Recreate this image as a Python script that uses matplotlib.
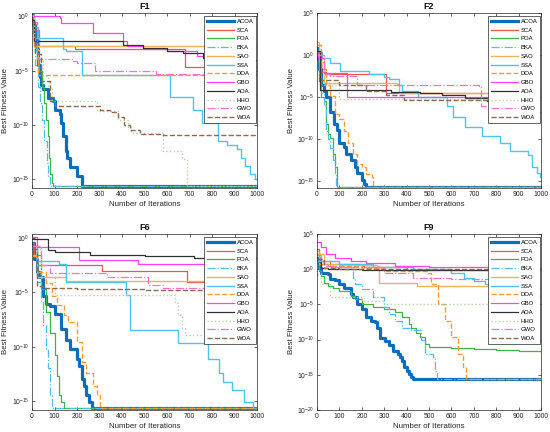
import numpy as np
import matplotlib
matplotlib.use('Agg')
import matplotlib.pyplot as plt
from matplotlib.ticker import FixedLocator, LogFormatterSciNotation, NullLocator, MultipleLocator

plt.rcParams['font.family'] = ['Liberation Sans', 'DejaVu Sans']
plt.rcParams['axes.unicode_minus'] = False
plt.rcParams['mathtext.fontset'] = 'custom'
plt.rcParams['mathtext.rm'] = 'Liberation Sans'

ALGOS = ['ACOA', 'SCA', 'POA', 'BKA', 'SAO', 'SSA', 'DOA', 'GBO', 'AOA', 'HHO', 'GWO', 'WOA']

# convergence curves: (iteration, log10 best fitness) breakpoints
F1 = {
    'ACOA': [(0, 0.15), (5, -0.8), (12, -1.8), (20, -3.0), (28, -4.5), (35, -5.6), (42, -6.3), (49, -6.7),
             (71, -7.5), (93, -7.8), (102, -8.6), (123, -9.0), (131, -9.8), (138, -11.0), (150, -12.4),
             (155, -13.0), (169, -13.9), (200, -14.7), (220, -15.65), (1000, -15.65)],
    'SCA': [(0, -0.2), (8, -1.3), (30, -2.75), (190, -3.05), (680, -4.7), (1000, -4.75)],
    'POA': [(0, 0.0), (5, -1.5), (10, -2.5), (20, -4.0), (30, -5.0), (45, -6.5), (55, -8.0), (62, -9.5),
            (70, -11.0), (75, -13.0), (80, -14.5), (88, -15.3), (95, -15.65), (1000, -15.65)],
    'BKA': [(0, -0.5), (8, -2.5), (15, -4.5), (25, -6.5), (35, -8.0), (45, -9.5), (55, -11.5),
            (65, -13.5), (72, -14.8), (80, -15.65), (1000, -15.65)],
    'SAO': [(0, -0.5), (10, -2.75), (1000, -2.75)],
    'SSA': [(0, 0.1), (10, -1.0), (25, -2.0), (138, -3.0), (150, -3.2), (220, -5.45), (613, -7.4),
            (716, -8.6), (756, -9.8), (827, -11.5), (866, -11.8), (911, -12.2), (930, -13.0),
            (947, -13.8), (969, -14.5), (991, -15.0), (1000, -15.1)],
    'DOA': [(0, -0.5), (10, -3.0), (25, -5.45), (1000, -5.45)],
    'GBO': [(0, 0.0), (123, -0.15), (130, -0.6), (272, -1.5), (405, -2.3), (420, -2.75), (495, -3.0),
            (600, -3.2), (735, -3.7), (900, -4.0), (985, -5.3), (1000, -5.3)],
    'AOA': [(0, -0.3), (10, -2.3), (405, -2.6), (495, -2.9), (600, -3.2), (673, -3.4), (760, -3.8),
            (896, -4.0), (1000, -4.1)],
    'HHO': [(0, 0.0), (10, -2.0), (30, -4.0), (50, -5.5), (70, -6.5), (89, -7.8), (289, -8.75),
            (380, -9.5), (427, -10.2), (440, -10.7), (582, -12.4), (667, -13.1), (689, -15.65),
            (1000, -15.65)],
    'GWO': [(0, -0.5), (20, -3.9), (180, -4.1), (200, -4.3), (280, -5.0), (550, -5.35), (985, -7.2),
            (1000, -7.2)],
    'WOA': [(0, -0.5), (15, -3.5), (40, -6.0), (80, -7.8), (102, -8.3), (289, -8.3), (300, -8.6),
            (347, -8.8), (380, -9.3), (410, -10.0), (435, -10.5), (480, -10.8), (582, -10.95),
            (1000, -10.95)],
}

F2 = {
    'ACOA': [(0, 0.8), (5, -0.5), (10, -1.6), (20, -3.5), (30, -4.3), (40, -5.0), (60, -6.8), (75, -8.2),
             (90, -8.9), (100, -10.5), (120, -10.9), (130, -11.7), (150, -12.5), (170, -13.3),
             (180, -14.0), (200, -14.8), (210, -15.3), (220, -15.65), (1000, -15.65)],
    'SCA': [(0, 0.4), (20, -2.0), (40, -2.2), (310, -4.5), (1000, -4.7)],
    'POA': [(0, 0.4), (10, -3.1), (20, -5.0), (30, -5.4), (40, -8.2), (50, -9.4), (60, -9.8),
            (70, -11.7), (80, -13.3), (88, -15.65), (1000, -15.65)],
    'BKA': [(0, 0.5), (10, -2.5), (20, -4.5), (30, -6.0), (40, -9.0), (50, -10.0), (60, -11.0),
            (70, -12.5), (80, -14.0), (86, -15.65), (1000, -15.65)],
    'SAO': [(0, 1.5), (10, -0.8), (30, -3.3), (357, -3.4), (365, -4.5), (1000, -4.7)],
    'SSA': [(0, 0.4), (22, -0.4), (60, -1.0), (104, -1.95), (230, -2.2), (300, -2.6), (320, -2.8),
            (365, -3.5), (380, -4.3), (450, -5.0), (579, -6.06), (609, -7.35), (661, -8.6),
            (735, -9.6), (817, -10.4), (861, -11.4), (943, -11.9), (958, -13.3), (980, -14.07),
            (994, -14.5), (1000, -14.5)],
    'DOA': [(0, 1.2), (20, -1.6), (40, -3.5), (60, -4.9), (80, -7.0), (100, -7.6), (120, -9.0),
            (140, -10.5), (160, -11.7), (180, -12.9), (200, -13.3), (220, -14.1), (245, -14.5),
            (250, -15.65), (1000, -15.65)],
    'GBO': [(0, 0.2), (5, -0.3), (30, -2.15), (134, -5.0), (1000, -5.05)],
    'AOA': [(0, 0.5), (15, -4.1), (200, -4.2), (330, -4.35), (460, -4.5), (560, -4.8), (660, -5.15),
            (757, -5.5), (970, -6.8), (1000, -6.8)],
    'HHO': [(0, 0.0), (30, -3.5), (100, -5.2), (1000, -5.4)],
    'GWO': [(0, 0.0), (30, -2.3), (60, -2.5), (180, -3.6), (724, -3.7), (730, -6.06), (1000, -6.06)],
    'WOA': [(0, 0.4), (20, -3.0), (100, -3.5), (220, -4.3), (310, -4.8), (390, -5.35), (1000, -5.4)],
}

F6 = {
    'ACOA': [(0, -0.4), (10, -1.9), (20, -3.1), (30, -3.6), (50, -5.3), (60, -6.1), (80, -6.25),
             (100, -7.0), (130, -8.4), (150, -9.4), (170, -10.2), (200, -11.1), (210, -11.8),
             (220, -13.0), (230, -13.6), (240, -14.5), (255, -15.1), (265, -15.7), (1000, -15.7)],
    'SCA': [(0, -0.4), (10, -1.5), (40, -2.43), (310, -3.05), (687, -4.0), (1000, -4.0)],
    'POA': [(0, -0.7), (20, -2.5), (40, -4.7), (60, -6.8), (80, -8.7), (100, -10.8), (110, -12.7),
            (120, -14.5), (130, -15.1), (140, -15.7), (1000, -15.7)],
    'BKA': [(0, -0.7), (20, -4.0), (40, -5.9), (50, -8.0), (60, -10.2), (70, -12.0), (80, -14.5),
            (90, -15.7), (1000, -15.7)],
    'SAO': [(0, -1.5), (20, -3.6), (153, -3.97), (990, -5.2), (1000, -5.2)],
    'SSA': [(0, -1.0), (20, -2.1), (120, -2.4), (150, -4.05), (418, -5.2), (436, -8.43), (650, -9.66),
            (780, -11.1), (830, -12.4), (850, -13.3), (890, -14.0), (940, -15.1), (980, -15.7),
            (1000, -15.7)],
    'DOA': [(0, -1.6), (20, -3.1), (60, -4.1), (90, -5.3), (110, -6.2), (140, -7.1), (160, -7.75),
            (200, -9.6), (220, -11.4), (240, -12.4), (270, -13.6), (290, -14.5), (300, -15.7),
            (1000, -15.7)],
    'GBO': [(0, 0.1), (20, -0.8), (210, -1.97), (472, -2.34), (990, -3.6), (1000, -3.6)],
    'AOA': [(0, -0.1), (70, -1.1), (100, -1.3), (258, -1.5), (500, -1.65), (720, -1.8), (1000, -1.85)],
    'HHO': [(0, -1.0), (40, -3.6), (100, -5.2), (636, -6.0), (650, -7.1), (665, -8.25), (680, -8.9),
            (1000, -8.9)],
    'GWO': [(0, -0.7), (40, -2.5), (80, -3.2), (332, -3.6), (517, -4.27), (583, -4.56), (990, -5.8),
            (1000, -5.8)],
    'WOA': [(0, -1.0), (20, -4.4), (50, -4.55), (200, -4.65), (500, -4.74), (1000, -4.74)],
}

F9 = {
    'ACOA': [(0, 1.65), (10, 0.2), (20, -0.5), (50, -0.7), (60, -1.4), (80, -1.6), (100, -2.1),
             (120, -2.6), (150, -3.5), (160, -4.0), (180, -5.0), (200, -5.7), (220, -6.8), (240, -7.3),
             (260, -7.5), (270, -8.3), (280, -9.8), (305, -10.2), (320, -10.8), (340, -11.6),
             (360, -12.0), (370, -12.5), (380, -13.0), (390, -13.9), (400, -14.4), (410, -14.9),
             (420, -15.3), (430, -15.65), (1000, -15.65)],
    'SCA': [(0, 2.8), (10, 1.6), (20, 1.2), (60, 0.7), (200, 0.5), (210, 0.25), (400, -0.1), (1000, -0.5)],
    'POA': [(0, 1.2), (10, -0.2), (20, -0.9), (30, -1.9), (50, -2.4), (70, -2.6), (100, -3.1),
            (150, -3.8), (170, -4.2), (200, -5.0), (250, -5.4), (300, -5.6), (350, -6.1), (380, -6.8),
            (410, -7.8), (420, -8.3), (440, -9.0), (460, -9.7), (480, -10.6), (500, -11.1),
            (600, -11.2), (700, -11.3), (800, -11.45), (900, -11.55), (1000, -11.9)],
    'BKA': [(0, 2.1), (10, 0.7), (60, 0.25), (150, 0.0), (160, -1.2), (170, -2.1), (200, -2.8),
            (250, -4.0), (300, -5.4), (320, -6.4), (350, -7.3), (380, -8.3), (420, -8.7), (465, -10.1),
            (480, -12.0), (520, -12.5), (525, -14.4), (535, -15.65), (1000, -15.65)],
    'SAO': [(0, 2.1), (30, 0.8), (100, 0.6), (270, 0.5), (275, -1.9), (446, -2.35), (1000, -2.35)],
    'SSA': [(0, 2.0), (20, 1.2), (100, 0.7), (250, 0.35), (430, 0.0), (600, -0.6), (655, -1.2),
            (700, -1.65), (750, -2.1), (800, -2.5), (900, -2.6), (1000, -2.8)],
    'DOA': [(0, 2.6), (10, 0.7), (50, 0.5), (200, 0.2), (300, -0.2), (490, -0.5), (510, -2.1),
            (540, -5.0), (570, -7.3), (600, -9.7), (630, -12.0), (650, -13.9), (665, -15.65),
            (1000, -15.65)],
    'GBO': [(0, 3.8), (20, 3.1), (40, 2.1), (80, 1.65), (150, 1.2), (220, 0.9), (350, 0.48),
            (500, 0.3), (1000, 0.15)],
    'AOA': [(0, 1.2), (20, 0.2), (50, 0.0), (200, -0.1), (400, -0.15), (1000, -0.3)],
    'HHO': [(0, -0.7), (20, -2.1), (60, -4.0), (200, -4.5), (300, -5.0), (1000, -5.1)],
    'GWO': [(0, 1.2), (30, 0.5), (100, 0.25), (300, -0.5), (430, -1.2), (600, -1.4), (980, -3.8),
            (1000, -3.8)],
    'WOA': [(0, 1.5), (30, 0.2), (100, 0.05), (1000, 0.0)],
}

PANELS = [
    ('F1', F1, (-15.8, 0.3), [0, -5, -10, -15]),
    ('F2', F2, (-15.8, 5.0), [5, 0, -5, -10, -15]),
    ('F6', F6, (-15.85, 0.4), [0, -5, -10, -15]),
    ('F9', F9, (-20.0, 5.0), [5, 0, -5, -10, -15, -20]),
]

STYLES = {
    'ACOA': dict(color='#0a6ebd', lw=2.3, ls='-'),
    'SCA': dict(color='#ee5548', lw=0.9, ls='-'),
    'POA': dict(color='#3cb44b', lw=0.9, ls='-'),
    'BKA': dict(color='#4dbeee', lw=0.9, ls='-.'),
    'SAO': dict(color='#edb35a', lw=1.0, ls='-'),
    'SSA': dict(color='#4cc3f0', lw=1.0, ls='-'),
    'DOA': dict(color='#ff9a33', lw=1.0, ls='--'),
    'GBO': dict(color='#ff40ff', lw=0.9, ls='-'),
    'AOA': dict(color='#303030', lw=0.9, ls='-'),
    'HHO': dict(color='#b3d4a8', lw=1.0, ls=':'),
    'GWO': dict(color='#ff70c8', lw=0.9, ls='-.'),
    'WOA': dict(color='#8c6a52', lw=1.0, ls='--'),
}

# axes boxes in figure pixels: left, top, right, bottom
BOXES = [(32, 13, 257, 188), (317, 13, 541, 188), (32, 234, 257, 410), (317, 234, 541, 410)]

W, H = 550, 432
fig = plt.figure(figsize=(W / 100, H / 100), dpi=100, facecolor='white')

for (name, data, ylim, yticks), (l, t, r, b) in zip(PANELS, BOXES):
    ax = fig.add_axes([l / W, (H - b) / H, (r - l) / W, (b - t) / H])
    for algo in ALGOS:
        pts = np.array(data[algo], dtype=float)
        st = STYLES[algo]
        ax.plot(pts[:, 0], 10 ** pts[:, 1], drawstyle='steps-post', color=st['color'],
                lw=st['lw'], ls=st['ls'], label=algo)
    ax.set_yscale('log')
    ax.set_xlim(0, 1000)
    ax.set_ylim(10 ** ylim[0], 10 ** ylim[1])
    ax.yaxis.set_major_locator(FixedLocator([10.0 ** e for e in yticks]))
    ax.yaxis.set_major_formatter(LogFormatterSciNotation())
    ax.yaxis.set_minor_locator(NullLocator())
    ax.xaxis.set_major_locator(MultipleLocator(100))
    ax.tick_params(direction='in', top=True, right=True, length=2.5, width=0.5,
                   labelsize=4.9, colors='#262626', pad=2)
    for sp in ax.spines.values():
        sp.set_linewidth(0.5)
        sp.set_color('#262626')
    ax.set_title(name, fontsize=6.5, fontweight='bold', pad=3, color='#111111')
    ax.set_xlabel('Number of Iterations', fontsize=5.7, labelpad=2, color='#262626')
    ax.set_ylabel('Best Fitness Value', fontsize=5.7, color='#262626')
    ax.yaxis.set_label_coords(-0.1, 0.5)
    leg = ax.legend(loc='upper right', bbox_to_anchor=(0.996, 0.983), borderaxespad=0,
                    fontsize=4.3, handlelength=4.5, handletextpad=0.5,
                    labelspacing=0.6, borderpad=0.45,
                    fancybox=False, framealpha=1.0, edgecolor='#262626')
    leg.get_frame().set_linewidth(0.5)

fig.savefig('out.png', dpi=100, facecolor='white')
